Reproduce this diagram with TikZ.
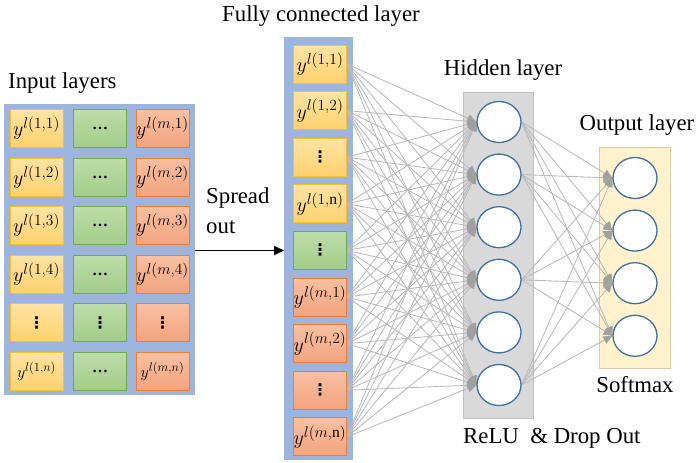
\RequirePackage{fix-cm}
\documentclass[tikz,border=0pt]{standalone}
\usepackage{amsmath,bm}
\usepackage{fontspec}
\setmainfont{Liberation Serif}
\newfontfamily\dotfont{DejaVu Sans}
\usetikzlibrary{shapes.geometric,arrows.meta}

% larger script sizes for the cell labels
\DeclareMathSizes{20}{20}{15.5}{11}
\DeclareMathSizes{16}{16}{12.5}{9}

\definecolor{panelblue}{HTML}{9DB4DC}
\definecolor{ylwtop}{HTML}{FFE3A3}
\definecolor{ylwbot}{HTML}{FFD16E}
\definecolor{ylwdraw}{HTML}{F5C02A}
\definecolor{grntop}{HTML}{BCDDA9}
\definecolor{grnbot}{HTML}{A3CC88}
\definecolor{grndraw}{HTML}{70AD47}
\definecolor{orgtop}{HTML}{F8C0A2}
\definecolor{orgbot}{HTML}{F3A47E}
\definecolor{orgdraw}{HTML}{ED7D31}
\definecolor{hidfill}{HTML}{D9D9D9}
\definecolor{hiddraw}{HTML}{BFBFBF}
\definecolor{outfill}{HTML}{FFF2CC}
\definecolor{outdraw}{HTML}{D9CBA5}
\definecolor{ring}{HTML}{41719C}
\definecolor{wire}{HTML}{BABABA}
\definecolor{tipgray}{HTML}{A0A0A0}

\pgfdeclarelayer{bg}
\pgfdeclarelayer{wires}
\pgfsetlayers{bg,wires,main}

\tikzset{
  cellbox/.style={minimum width=53pt, minimum height=38pt, inner sep=0pt, line width=0.8pt},
  ylw/.style={cellbox, draw=ylwdraw, top color=ylwtop, bottom color=ylwbot},
  grn/.style={cellbox, draw=grndraw, top color=grntop, bottom color=grnbot},
  org/.style={cellbox, draw=orgdraw, top color=orgtop, bottom color=orgbot},
  neuron/.style={ellipse, draw=ring, line width=1.3pt, fill=white, minimum width=44pt, minimum height=41pt, inner sep=0pt},
  wiring/.style={draw=wire, line width=0.85pt, -{Triangle[length=9pt,width=8pt,color=tipgray]}},
  label/.style={font=\fontsize{22.8}{25}\selectfont, inner sep=0pt},
  mt/.style={font=\fontsize{20}{20}\selectfont},
  mts/.style={font=\fontsize{16}{16}\selectfont},
}
\newcommand{\hdotcell}{{\fontsize{16}{16}\selectfont\bfseries …}}
\newcommand{\vdotcell}{{\dotfont\fontsize{16}{16}\selectfont\bfseries ⋮}}

\begin{document}
\begin{tikzpicture}[x=1pt,y=-1pt]
\useasboundingbox (0,0) rectangle (697,463);

% panels
\begin{pgfonlayer}{bg}
  \fill[panelblue] (4,104) rectangle (195,395);
  \fill[panelblue] (284,37) rectangle (353,460);
  \draw[hiddraw, fill=hidfill, line width=0.8pt] (463,92) rectangle (533,418);
  \draw[outdraw, fill=outfill, line width=0.8pt] (599,147) rectangle (670,368);
\end{pgfonlayer}

% titles
\node[label, anchor=west] (tin) at (8,83) {Input layers};
\node[label] (tfc) at (321,16) {Fully connected layer};
\node[label] (thid) at (503,70) {Hidden layer};
\node[label] (tout) at (637,125) {Output layer};
\node[label] (tsm) at (635,385) {Softmax};
\node[label, anchor=west] (trelu) at (463,438) {ReLU\ \ \& Drop Out};
\node[label, anchor=west] (tsp1) at (206,198) {Spread};
\node[label, anchor=west] (tsp2) at (206,227) {out};

% input grid
\foreach \r/\k in {1/1,2/2,3/3,4/4}{
  \pgfmathsetmacro{\yy}{128.5+48.5*(\r-1)}
  \node[ylw, mt] (a\r) at (36.5,\yy) {$y^{l(1,\k)}$};
  \node[grn] (b\r) at (100,\yy) {\hdotcell};
  \node[org, mt] (c\r) at (162.5,\yy) {$y^{l(m,\k)}$};
}
\node[ylw] (a5) at (36.5,322.5) {\vdotcell};
\node[grn] (b5) at (100,322.5) {\vdotcell};
\node[org] (c5) at (162.5,322.5) {\vdotcell};
\node[ylw, mts] (a6) at (36.5,371) {$y^{l(1,n)}$};
\node[grn] (b6) at (100,371) {\hdotcell};
\node[org, mts] (c6) at (162.5,371) {$y^{l(m,n)}$};

% spread arrow
\coordinate (sa) at (195,250.5);
\coordinate (sb) at (284,250.5);
\draw[line width=1.6pt, -{Triangle[length=10pt,width=9pt]}] (sa) -- (sb);

% fully connected column
\node[ylw, mt] (f1) at (320,64) {$y^{l(1,1)}$};
\node[ylw, mt] (f2) at (320,110.6) {$y^{l(1,2)}$};
\node[ylw] (f3) at (320,157.2) {\vdotcell};
\node[ylw, mt] (f4) at (320,203.8) {$y^{l(1,\mathrm{n})}$};
\node[grn] (f5) at (320,250.4) {\vdotcell};
\node[org, mt] (f6) at (320,297) {$y^{l(m,1)}$};
\node[org, mt] (f7) at (320,343.6) {$y^{l(m,2)}$};
\node[org] (f8) at (320,390.2) {\vdotcell};
\node[org, mt] (f9) at (320,436.8) {$y^{l(m,\mathrm{n})}$};

% hidden neurons
\foreach \i in {1,...,6}{
  \node[neuron] (h\i) at (499,{122+52.6*(\i-1)}) {};
}
% output neurons
\foreach \j in {1,...,4}{
  \node[neuron] (o\j) at (635,{178+52.6*(\j-1)}) {};
}

% connections
\begin{pgfonlayer}{wires}
  \foreach \i in {1,...,9}{
    \foreach \j in {1,...,6}{
      \draw[wiring] (f\i.east) -- (h\j.west);
    }
  }
  \foreach \i in {1,2,4,6}{
    \foreach \j in {1,...,4}{
      \draw[wiring] (h\i.east) -- (o\j.west);
    }
  }
\end{pgfonlayer}
\end{tikzpicture}
\end{document}
